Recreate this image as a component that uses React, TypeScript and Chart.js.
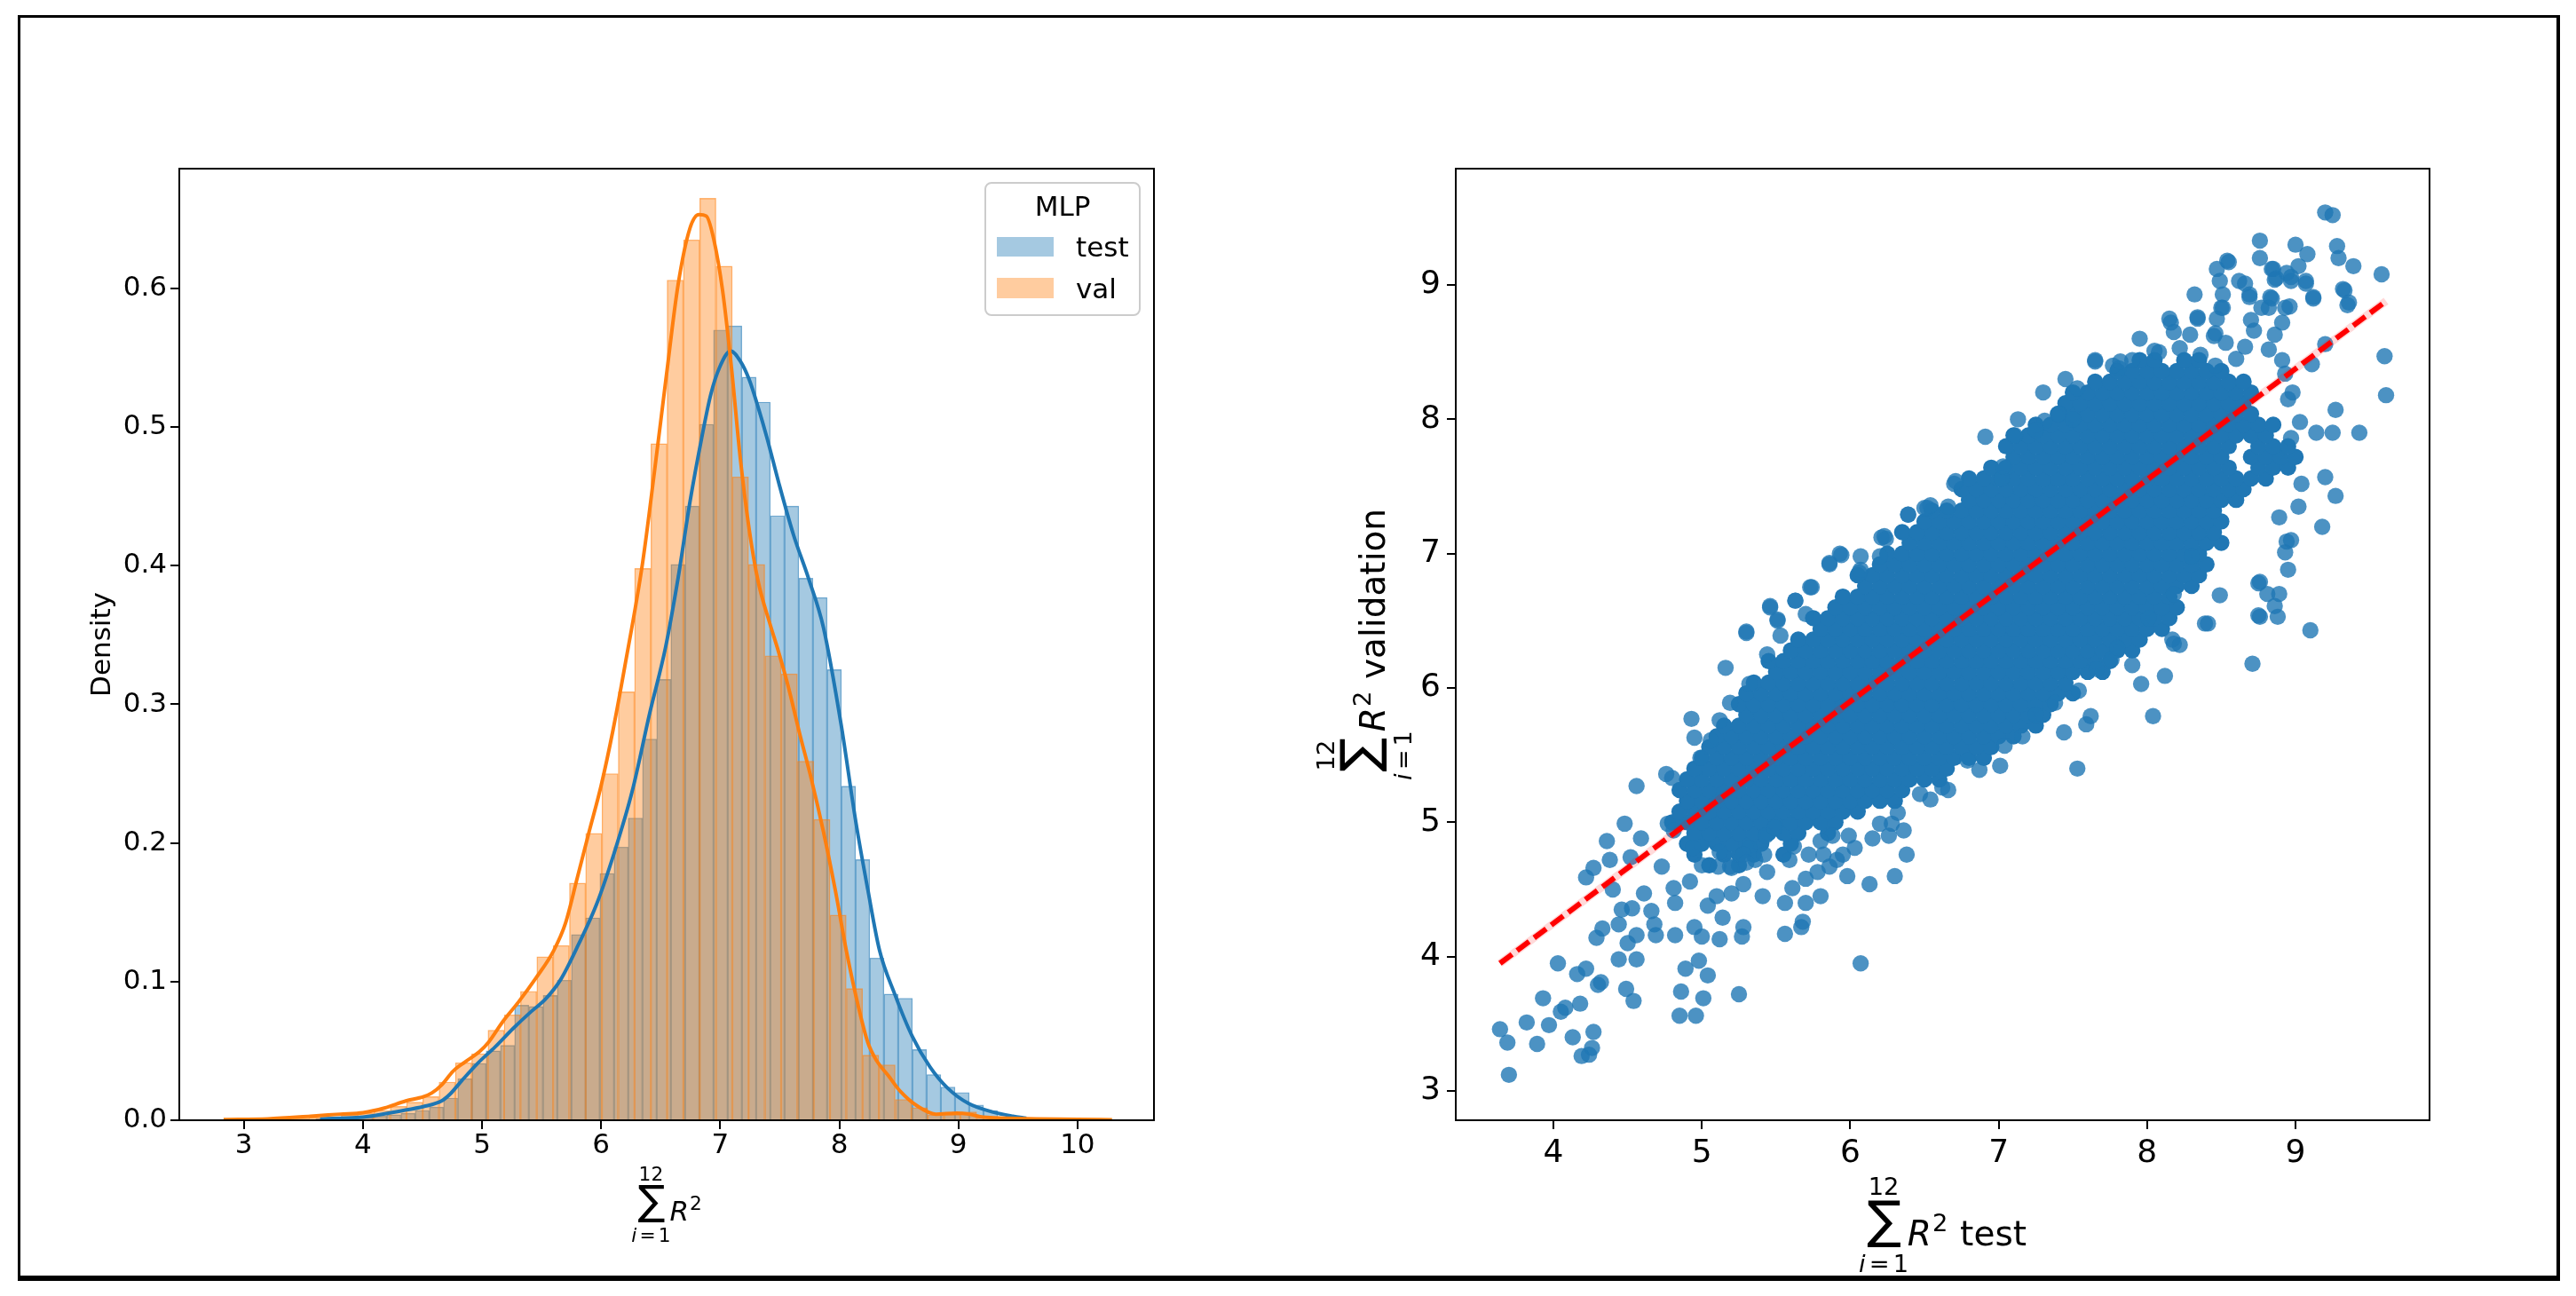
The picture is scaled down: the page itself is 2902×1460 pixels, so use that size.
import React, { useEffect, useRef } from 'react';
import { Chart, registerables } from 'chart.js';

Chart.register(...registerables);

const FONT = '"DejaVu Sans", "Liberation Sans", sans-serif';
const BLUE = '#1f77b4';
const ORANGE = '#ff7f0e';

// ---------- left panel: distribution of summed R^2 ----------
const histXTicks = [3, 4, 5, 6, 7, 8, 9, 10];
const histYTicks = [0, 0.1, 0.2, 0.3, 0.4, 0.5, 0.6];

const testBinCenters = [
  3.663, 3.782, 3.901, 4.021, 4.14, 4.259, 4.379, 4.498, 4.617, 4.736,
  4.856, 4.975, 5.094, 5.214, 5.333, 5.452, 5.572, 5.691, 5.81, 5.929,
  6.049, 6.168, 6.287, 6.407, 6.526, 6.645, 6.765, 6.884, 7.003, 7.122,
  7.242, 7.361, 7.48, 7.6, 7.719, 7.838, 7.958, 8.077, 8.196, 8.315,
  8.435, 8.554, 8.673, 8.793, 8.912, 9.031, 9.151, 9.27, 9.389, 9.508,
];
const testDensity = [
  0.001, 0.001, 0.002, 0.002, 0.003, 0.004, 0.005, 0.007, 0.0095, 0.016,
  0.03, 0.041, 0.05, 0.054, 0.083, 0.082, 0.09, 0.101, 0.134, 0.146,
  0.178, 0.197, 0.218, 0.275, 0.318, 0.401, 0.443, 0.502, 0.57, 0.573,
  0.536, 0.518, 0.436, 0.443, 0.391, 0.377, 0.325, 0.241, 0.188, 0.117,
  0.091, 0.088, 0.051, 0.033, 0.024, 0.02, 0.011, 0.007, 0.002, 0.001,
];
const valBinCenters = [
  3.202, 3.339, 3.476, 3.613, 3.75, 3.886, 4.023, 4.16, 4.297, 4.434,
  4.57, 4.707, 4.844, 4.981, 5.118, 5.254, 5.391, 5.528, 5.665, 5.802,
  5.938, 6.075, 6.212, 6.349, 6.486, 6.622, 6.759, 6.896, 7.033, 7.17,
  7.306, 7.443, 7.58, 7.717, 7.854, 7.99, 8.127, 8.264, 8.401, 8.538,
  8.674, 8.811, 8.948, 9.085, 9.222, 9.358, 9.495, 9.632, 9.769, 9.906,
];
const valDensity = [
  0.001, 0.001, 0.001, 0.002, 0.002, 0.004, 0.005, 0.007, 0.01, 0.013,
  0.017, 0.0275, 0.0414, 0.048, 0.065, 0.076, 0.093, 0.118, 0.126, 0.171,
  0.207, 0.25, 0.309, 0.398, 0.488, 0.606, 0.635, 0.665, 0.616, 0.464,
  0.401, 0.335, 0.322, 0.259, 0.217, 0.148, 0.095, 0.047, 0.04, 0.015,
  0.009, 0.004, 0.004, 0.006, 0.002, 0.001, 0.001, 0.0005, 0.0005, 0.0005,
];

const testKde: [number, number][] = [
  [3.64, 0.001], [3.8, 0.0015], [4.0, 0.0022], [4.31, 0.0066], [4.51, 0.0099],
  [4.66, 0.0139], [4.73, 0.0187], [4.83, 0.0286], [4.96, 0.0408], [5.11, 0.0529],
  [5.26, 0.0661], [5.41, 0.0782], [5.53, 0.0871], [5.66, 0.1014], [5.81, 0.1268],
  [5.96, 0.1554], [6.11, 0.1929], [6.26, 0.237], [6.41, 0.2944], [6.54, 0.3407],
  [6.646, 0.391], [6.746, 0.446], [6.845, 0.4924], [6.92, 0.5233], [6.995, 0.5431],
  [7.087, 0.5548], [7.169, 0.5475], [7.243, 0.5343], [7.318, 0.5144], [7.392, 0.4924],
  [7.493, 0.4593], [7.617, 0.4218], [7.741, 0.391], [7.866, 0.3557], [8.015, 0.2855],
  [8.139, 0.215], [8.239, 0.1665], [8.338, 0.1224], [8.463, 0.0915], [8.612, 0.0606],
  [8.761, 0.0385], [8.91, 0.0231], [9.084, 0.0121], [9.284, 0.006], [9.457, 0.0029],
  [9.57, 0.0015],
];
const valKde: [number, number][] = [
  [2.83, 0.0005], [3.2, 0.001], [3.56, 0.0029], [3.81, 0.0044], [4.0, 0.0055],
  [4.18, 0.0088], [4.36, 0.0139], [4.51, 0.017], [4.58, 0.0198], [4.66, 0.0254],
  [4.756, 0.0353], [4.855, 0.0419], [4.98, 0.0496], [5.054, 0.0562], [5.179, 0.0717],
  [5.303, 0.0849], [5.452, 0.1025], [5.602, 0.1224], [5.701, 0.1422], [5.801, 0.1753],
  [5.9, 0.2084], [6.0, 0.2414], [6.099, 0.2811], [6.199, 0.3274], [6.348, 0.402],
  [6.448, 0.468], [6.547, 0.5365], [6.646, 0.6026], [6.746, 0.6435], [6.821, 0.6533],
  [6.883, 0.6522], [6.945, 0.6357], [7.02, 0.5983], [7.094, 0.5431], [7.169, 0.477],
  [7.243, 0.4263], [7.318, 0.3888], [7.418, 0.3579], [7.48, 0.3407], [7.567, 0.3142],
  [7.667, 0.2789], [7.766, 0.2458], [7.866, 0.2084], [7.965, 0.1665], [8.064, 0.1201],
  [8.164, 0.0805], [8.239, 0.0562], [8.313, 0.043], [8.413, 0.032], [8.512, 0.0209],
  [8.661, 0.0099], [8.81, 0.0044], [8.985, 0.0051], [9.084, 0.0044], [9.209, 0.0022],
  [9.408, 0.0015], [9.657, 0.001], [10.0, 0.0007], [10.29, 0.0003],
];

// ---------- right panel: test vs validation ----------
const scatterXTicks = [4, 5, 6, 7, 8, 9];
const scatterYTicks = [3, 4, 5, 6, 7, 8, 9];
const fitLine: [number, number][] = [[3.64, 3.95], [9.61, 8.88]];

// points that can be told apart in the picture
const scatterSparse: [number, number][] = [
  [3.64, 3.46], [3.69, 3.36], [3.7, 3.12], [3.82, 3.51], [3.89, 3.35], [3.97, 3.49], [3.93, 3.69],
  [4.03, 3.95], [4.05, 3.59], [4.08, 3.62], [4.13, 3.4], [4.16, 3.87], [4.18, 3.65], [4.19, 3.26],
  [4.22, 3.91], [4.24, 3.27], [4.26, 3.32], [4.27, 3.44], [4.3, 3.79], [4.32, 3.81], [4.29, 4.14],
  [4.33, 4.21], [4.22, 4.59], [4.27, 4.66], [4.36, 4.86], [4.38, 4.72], [4.4, 4.5], [4.44, 3.98],
  [4.46, 4.35], [4.44, 4.24], [4.49, 3.76], [4.5, 4.1], [4.54, 3.67], [4.56, 3.98], [4.56, 4.16],
  [4.53, 4.36], [4.48, 4.99], [4.52, 4.74], [4.56, 5.27], [4.59, 4.88], [4.61, 4.47], [4.66, 4.34],
  [4.68, 4.24], [4.69, 4.16], [4.73, 4.67], [4.76, 5.36], [4.77, 4.99], [4.8, 5.33], [4.81, 4.51],
  [4.82, 4.4], [4.82, 4.16], [4.85, 3.56], [4.86, 3.74], [4.89, 3.91], [4.92, 4.56], [4.93, 5.77],
  [4.95, 5.63], [4.95, 4.22], [4.96, 3.56], [4.98, 3.97], [4.99, 5.48], [5.01, 3.69], [5.04, 3.86],
  [5.06, 5.61], [5.0, 4.15], [5.04, 4.38], [5.1, 4.45], [5.12, 4.13], [5.12, 5.76], [5.14, 4.29],
  [5.16, 6.15], [5.19, 4.67], [5.2, 4.47], [5.25, 3.72], [5.27, 4.15], [5.28, 4.22], [5.28, 4.54],
  [5.3, 6.41], [5.32, 4.81], [5.36, 4.72], [5.41, 4.45], [5.43, 4.9], [5.46, 6.6], [5.49, 4.96],
  [5.51, 6.5], [5.56, 4.17], [5.56, 4.4], [5.59, 4.72], [5.61, 4.51], [5.63, 6.65], [5.67, 4.22],
  [5.68, 4.26], [5.7, 4.4], [5.72, 4.76], [5.74, 6.75], [5.78, 4.63], [5.8, 4.45], [5.82, 4.76],
  [5.86, 6.93], [5.88, 4.9], [5.91, 4.72], [5.94, 6.99], [5.95, 4.76], [5.98, 4.6], [5.99, 4.9],
  [6.07, 3.95], [6.07, 6.88], [6.13, 4.54], [6.15, 4.88], [6.2, 4.99], [6.23, 7.13], [6.26, 4.9],
  [6.3, 4.6], [6.32, 5.07], [6.36, 4.94], [6.38, 4.76], [6.39, 7.29], [6.47, 5.21], [6.52, 7.34],
  [6.62, 5.26], [6.66, 5.24], [6.79, 5.46], [7.01, 5.42], [6.91, 7.87], [7.02, 7.56], [7.13, 8.0],
  [7.16, 5.64], [7.25, 5.8], [7.31, 7.99], [7.41, 8.04], [7.44, 5.67], [7.53, 5.4], [7.59, 5.73],
  [7.62, 5.79], [7.65, 8.43], [7.66, 6.14], [7.76, 6.21], [7.81, 8.38], [7.9, 6.17], [7.96, 6.03],
  [8.04, 5.79], [8.12, 6.09], [8.17, 6.36], [8.22, 6.32], [8.41, 6.48], [8.49, 6.69], [8.15, 8.75],
  [8.32, 8.93], [8.34, 8.76], [8.47, 9.12], [8.55, 9.17], [8.49, 9.03], [8.51, 8.83], [8.62, 9.03],
  [8.66, 9.01], [8.69, 8.93], [8.7, 8.74], [8.76, 9.33], [8.76, 9.2], [8.82, 8.83], [8.83, 8.91],
  [8.85, 9.12], [8.87, 9.05], [8.91, 8.72], [8.93, 8.83], [8.97, 9.06], [9.0, 9.3], [9.02, 9.14],
  [9.08, 9.23], [9.07, 9.03], [9.12, 8.91], [9.2, 9.54], [9.25, 9.52], [9.28, 9.29], [9.29, 9.2],
  [9.32, 8.97], [9.36, 8.87], [9.39, 9.14], [9.58, 9.08], [9.6, 8.47], [9.61, 8.18], [9.11, 8.41],
  [9.2, 8.56], [9.27, 8.07], [9.25, 7.9], [9.43, 7.9], [9.14, 7.9], [9.2, 7.57], [9.27, 7.43],
  [9.04, 7.52], [9.02, 7.35], [9.18, 7.2], [8.97, 7.1], [8.93, 7.01], [8.95, 6.88], [8.89, 6.7],
  [8.86, 6.61], [8.88, 6.53], [8.76, 6.53], [8.81, 6.7], [8.76, 6.79], [9.1, 6.43], [8.71, 6.18],
  [8.18, 6.33], [8.89, 7.27],
  [6.7, 7.52], [6.54, 7.36], [6.24, 7.11], [6.07, 6.98], [5.7, 6.55], [5.53, 6.39], [5.44, 6.25],
  [5.32, 6.03], [5.19, 5.89], [8.3, 6.98], [8.18, 6.7], [8.01, 6.52], [7.8, 6.3], [7.54, 5.98],
  [7.38, 5.89], [7.04, 5.57], [6.87, 5.39], [6.54, 5.17], [6.28, 4.99], [6.03, 4.81], [5.86, 4.67],
  [5.7, 4.58], [5.44, 4.63], [5.28, 4.76], [5.11, 4.67], [4.94, 4.81], [4.81, 4.94],
  [8.18, 8.65], [8.05, 8.51], [7.95, 8.6], [8.45, 8.62], [8.6, 8.45], [7.45, 8.3], [7.3, 8.2],
  [8.53, 8.57], [8.72, 8.66], [8.86, 8.63], [8.66, 8.54], [8.82, 8.52], [8.91, 8.44], [8.93, 8.34],
  [8.98, 8.2], [8.95, 8.15], [9.03, 7.98], [8.97, 7.86], [8.94, 7.09], [8.75, 6.78], [8.75, 6.54],
  [8.39, 6.48], [8.29, 8.63], [8.46, 8.64], [8.34, 8.75], [8.16, 8.72], [8.47, 8.75], [8.5, 8.83],
  [8.51, 8.93], [8.69, 8.91], [8.84, 8.9], [8.77, 8.83], [8.96, 8.84], [8.86, 9.04], [8.97, 9.03],
  [9.07, 9.01], [8.54, 9.18], [8.84, 9.12], [8.94, 9.09], [9.12, 8.9], [9.33, 8.96], [9.35, 8.85],
  [7.53, 8.23], [7.5, 8.0], [7.77, 8.4], [7.82, 8.43], [7.65, 8.44], [7.4, 8.04], [7.25, 7.92],
  [7.11, 7.88], [6.71, 7.54], [7.03, 7.65], [6.66, 7.35], [6.5, 7.34], [6.39, 7.29], [6.21, 7.12],
  [6.2, 6.98], [5.93, 7.0], [5.86, 6.92], [6.06, 6.86], [5.73, 6.75], [5.63, 6.65], [5.46, 6.61],
  [5.3, 6.42], [5.51, 6.51],
  [5.0, 4.68], [5.2, 4.66], [5.3, 4.7], [5.12, 4.78], [5.42, 4.76], [5.62, 4.82], [5.8, 4.86],
  [8.08, 8.5], [8.22, 8.53], [8.36, 8.48], [7.9, 8.44], [8.46, 8.4],
];

// the solid core of the cloud, read row by row: [validation, test values in that row]
const scatterDenseRows: [number, number[]][] = [
  [4.68, [5.05, 5.25]],
  [4.76, [4.95, 5.15, 5.25, 5.35, 5.55]],
  [4.84, [4.9, 5, 5.1, 5.2, 5.3, 5.4, 5.6]],
  [4.92, [4.95, 5.05, 5.15, 5.25, 5.35, 5.45, 5.55, 5.65, 5.85]],
  [5.0, [4.8, 4.9, 5, 5.1, 5.2, 5.3, 5.4, 5.5, 5.6, 5.7, 5.8, 5.9]],
  [5.08, [4.85, 4.95, 5.05, 5.15, 5.25, 5.35, 5.45, 5.55, 5.65, 5.75, 5.85, 5.95, 6.05]],
  [5.16, [4.9, 5, 5.1, 5.2, 5.3, 5.4, 5.5, 5.6, 5.7, 5.8, 5.9, 6, 6.1, 6.2, 6.3]],
  [5.24, [4.85, 4.95, 5.05, 5.15, 5.25, 5.35, 5.45, 5.55, 5.65, 5.75, 5.85, 5.95, 6.05, 6.15, 6.25, 6.35]],
  [5.32, [4.9, 5, 5.1, 5.2, 5.3, 5.4, 5.5, 5.6, 5.7, 5.8, 5.9, 6, 6.1, 6.2, 6.3, 6.4, 6.5, 6.6]],
  [5.4, [4.95, 5.05, 5.15, 5.25, 5.35, 5.45, 5.55, 5.65, 5.75, 5.85, 5.95, 6.05, 6.15, 6.25, 6.35, 6.45, 6.55, 6.65]],
  [5.48, [5, 5.1, 5.2, 5.3, 5.4, 5.5, 5.6, 5.7, 5.8, 5.9, 6, 6.1, 6.2, 6.3, 6.4, 6.5, 6.6, 6.7, 6.8, 6.9]],
  [5.56, [5.05, 5.15, 5.25, 5.35, 5.45, 5.55, 5.65, 5.75, 5.85, 5.95, 6.05, 6.15, 6.25, 6.35, 6.45, 6.55, 6.65, 6.75, 6.85, 6.95]],
  [5.64, [5.1, 5.2, 5.3, 5.4, 5.5, 5.6, 5.7, 5.8, 5.9, 6, 6.1, 6.2, 6.3, 6.4, 6.5, 6.6, 6.7, 6.8, 6.9, 7, 7.1]],
  [5.72, [5.15, 5.25, 5.35, 5.45, 5.55, 5.65, 5.75, 5.85, 5.95, 6.05, 6.15, 6.25, 6.35, 6.45, 6.55, 6.65, 6.75, 6.85, 6.95, 7.05, 7.15, 7.25]],
  [5.8, [5.3, 5.4, 5.5, 5.6, 5.7, 5.8, 5.9, 6, 6.1, 6.2, 6.3, 6.4, 6.5, 6.6, 6.7, 6.8, 6.9, 7, 7.1, 7.2, 7.3]],
  [5.88, [5.25, 5.35, 5.45, 5.55, 5.65, 5.75, 5.85, 5.95, 6.05, 6.15, 6.25, 6.35, 6.45, 6.55, 6.65, 6.75, 6.85, 6.95, 7.05, 7.15, 7.25, 7.35]],
  [5.96, [5.3, 5.4, 5.5, 5.6, 5.7, 5.8, 5.9, 6, 6.1, 6.2, 6.3, 6.4, 6.5, 6.6, 6.7, 6.8, 6.9, 7, 7.1, 7.2, 7.3, 7.4, 7.5]],
  [6.04, [5.35, 5.45, 5.55, 5.65, 5.75, 5.85, 5.95, 6.05, 6.15, 6.25, 6.35, 6.45, 6.55, 6.65, 6.75, 6.85, 6.95, 7.05, 7.15, 7.25, 7.35, 7.45]],
  [6.12, [5.5, 5.6, 5.7, 5.8, 5.9, 6, 6.1, 6.2, 6.3, 6.4, 6.5, 6.6, 6.7, 6.8, 6.9, 7, 7.1, 7.2, 7.3, 7.4, 7.5, 7.6, 7.7]],
  [6.2, [5.45, 5.55, 5.65, 5.75, 5.85, 5.95, 6.05, 6.15, 6.25, 6.35, 6.45, 6.55, 6.65, 6.75, 6.85, 6.95, 7.05, 7.15, 7.25, 7.35, 7.45, 7.55, 7.65, 7.75]],
  [6.28, [5.6, 5.7, 5.8, 5.9, 6, 6.1, 6.2, 6.3, 6.4, 6.5, 6.6, 6.7, 6.8, 6.9, 7, 7.1, 7.2, 7.3, 7.4, 7.5, 7.6, 7.7, 7.8, 7.9]],
  [6.36, [5.65, 5.75, 5.85, 5.95, 6.05, 6.15, 6.25, 6.35, 6.45, 6.55, 6.65, 6.75, 6.85, 6.95, 7.05, 7.15, 7.25, 7.35, 7.45, 7.55, 7.65, 7.75, 7.85, 7.95]],
  [6.44, [5.8, 5.9, 6, 6.1, 6.2, 6.3, 6.4, 6.5, 6.6, 6.7, 6.8, 6.9, 7, 7.1, 7.2, 7.3, 7.4, 7.5, 7.6, 7.7, 7.8, 7.9, 8, 8.1]],
  [6.52, [5.75, 5.85, 5.95, 6.05, 6.15, 6.25, 6.35, 6.45, 6.55, 6.65, 6.75, 6.85, 6.95, 7.05, 7.15, 7.25, 7.35, 7.45, 7.55, 7.65, 7.75, 7.85, 7.95, 8.05, 8.15]],
  [6.6, [5.9, 6, 6.1, 6.2, 6.3, 6.4, 6.5, 6.6, 6.7, 6.8, 6.9, 7, 7.1, 7.2, 7.3, 7.4, 7.5, 7.6, 7.7, 7.8, 7.9, 8, 8.1, 8.2]],
  [6.68, [5.95, 6.05, 6.15, 6.25, 6.35, 6.45, 6.55, 6.65, 6.75, 6.85, 6.95, 7.05, 7.15, 7.25, 7.35, 7.45, 7.55, 7.65, 7.75, 7.85, 7.95, 8.05, 8.15]],
  [6.76, [6.1, 6.2, 6.3, 6.4, 6.5, 6.6, 6.7, 6.8, 6.9, 7, 7.1, 7.2, 7.3, 7.4, 7.5, 7.6, 7.7, 7.8, 7.9, 8, 8.1, 8.2, 8.3]],
  [6.84, [6.05, 6.15, 6.25, 6.35, 6.45, 6.55, 6.65, 6.75, 6.85, 6.95, 7.05, 7.15, 7.25, 7.35, 7.45, 7.55, 7.65, 7.75, 7.85, 7.95, 8.05, 8.15, 8.25, 8.35]],
  [6.92, [6.2, 6.3, 6.4, 6.5, 6.6, 6.7, 6.8, 6.9, 7, 7.1, 7.2, 7.3, 7.4, 7.5, 7.6, 7.7, 7.8, 7.9, 8, 8.1, 8.2, 8.3, 8.4]],
  [7.0, [6.25, 6.35, 6.45, 6.55, 6.65, 6.75, 6.85, 6.95, 7.05, 7.15, 7.25, 7.35, 7.45, 7.55, 7.65, 7.75, 7.85, 7.95, 8.05, 8.15, 8.25, 8.35]],
  [7.08, [6.4, 6.5, 6.6, 6.7, 6.8, 6.9, 7, 7.1, 7.2, 7.3, 7.4, 7.5, 7.6, 7.7, 7.8, 7.9, 8, 8.1, 8.2, 8.3, 8.4, 8.5]],
  [7.16, [6.35, 6.45, 6.55, 6.65, 6.75, 6.85, 6.95, 7.05, 7.15, 7.25, 7.35, 7.45, 7.55, 7.65, 7.75, 7.85, 7.95, 8.05, 8.15, 8.25, 8.35, 8.45]],
  [7.24, [6.5, 6.6, 6.7, 6.8, 6.9, 7, 7.1, 7.2, 7.3, 7.4, 7.5, 7.6, 7.7, 7.8, 7.9, 8, 8.1, 8.2, 8.3, 8.4, 8.5]],
  [7.32, [6.55, 6.65, 6.75, 6.85, 6.95, 7.05, 7.15, 7.25, 7.35, 7.45, 7.55, 7.65, 7.75, 7.85, 7.95, 8.05, 8.15, 8.25, 8.35, 8.45]],
  [7.4, [6.8, 6.9, 7, 7.1, 7.2, 7.3, 7.4, 7.5, 7.6, 7.7, 7.8, 7.9, 8, 8.1, 8.2, 8.3, 8.4, 8.5, 8.6]],
  [7.48, [6.75, 6.85, 6.95, 7.05, 7.15, 7.25, 7.35, 7.45, 7.55, 7.65, 7.75, 7.85, 7.95, 8.05, 8.15, 8.25, 8.35, 8.45, 8.55, 8.65]],
  [7.56, [6.8, 6.9, 7, 7.1, 7.2, 7.3, 7.4, 7.5, 7.6, 7.7, 7.8, 7.9, 8, 8.1, 8.2, 8.3, 8.4, 8.5, 8.6, 8.7, 8.8]],
  [7.64, [6.95, 7.05, 7.15, 7.25, 7.35, 7.45, 7.55, 7.65, 7.75, 7.85, 7.95, 8.05, 8.15, 8.25, 8.35, 8.45, 8.55, 8.75, 8.85, 8.95]],
  [7.72, [7.1, 7.2, 7.3, 7.4, 7.5, 7.6, 7.7, 7.8, 7.9, 8, 8.1, 8.2, 8.3, 8.4, 8.5, 8.7, 8.8, 8.9, 9]],
  [7.8, [7.05, 7.15, 7.25, 7.35, 7.45, 7.55, 7.65, 7.75, 7.85, 7.95, 8.05, 8.15, 8.25, 8.35, 8.45, 8.55, 8.75, 8.85, 8.95]],
  [7.88, [7.1, 7.2, 7.3, 7.4, 7.5, 7.6, 7.7, 7.8, 7.9, 8, 8.1, 8.2, 8.3, 8.4, 8.5, 8.6, 8.7, 8.8]],
  [7.96, [7.25, 7.35, 7.45, 7.55, 7.65, 7.75, 7.85, 7.95, 8.05, 8.15, 8.25, 8.35, 8.45, 8.55, 8.65, 8.75, 8.85]],
  [8.04, [7.4, 7.5, 7.6, 7.7, 7.8, 7.9, 8, 8.1, 8.2, 8.3, 8.4, 8.5, 8.6, 8.7]],
  [8.12, [7.45, 7.55, 7.65, 7.75, 7.85, 7.95, 8.05, 8.15, 8.25, 8.35, 8.45, 8.55, 8.65]],
  [8.2, [7.5, 7.6, 7.7, 7.8, 7.9, 8, 8.1, 8.2, 8.3, 8.4, 8.5, 8.6, 8.7]],
  [8.28, [7.65, 7.75, 7.85, 7.95, 8.05, 8.15, 8.25, 8.35, 8.45, 8.55, 8.65]],
  [8.36, [7.8, 7.9, 8, 8.1, 8.2, 8.3, 8.4, 8.5]],
  [8.44, [7.95, 8.05, 8.25, 8.35]],
];

// ---------- drawing helpers ----------
const spines = {
  id: 'spines',
  afterDatasetsDraw(chart: any) {
    const { ctx, chartArea: a } = chart;
    ctx.save();
    ctx.strokeStyle = '#000';
    ctx.lineWidth = 2;
    ctx.strokeRect(a.left, a.top, a.right - a.left, a.bottom - a.top);
    ctx.restore();
  },
};

// sum_{i=1}^{12} R^2 [suffix], origin = baseline of R, group centred on x = 0
function drawSumLabel(ctx: CanvasRenderingContext2D, s: number, suffix: string) {
  const sub = 0.7 * s;
  ctx.fillStyle = '#000';
  ctx.textAlign = 'left';
  ctx.textBaseline = 'alphabetic';
  ctx.font = `100px ${FONT}`;
  const probe = ctx.measureText('\u2211');
  const sumPx = (100 * 1.36 * s) / (probe.actualBoundingBoxAscent + probe.actualBoundingBoxDescent);
  ctx.font = `${sumPx}px ${FONT}`;
  const sm = ctx.measureText('\u2211');
  const sumW = sm.actualBoundingBoxLeft + sm.actualBoundingBoxRight;
  ctx.font = `italic ${sub}px ${FONT}`;
  const wi = ctx.measureText('i').width;
  ctx.font = `${sub}px ${FONT}`;
  const wEq = ctx.measureText('=').width;
  const w1 = ctx.measureText('1').width;
  const w2 = ctx.measureText('2').width;
  const gap = 0.15 * sub;
  const subW = wi + gap + wEq + gap + w1;
  const colW = Math.max(sumW, subW);
  ctx.font = `italic ${s}px ${FONT}`;
  const wR = ctx.measureText('R').width;
  ctx.font = `${s}px ${FONT}`;
  const wSuffix = suffix ? 0.35 * s + ctx.measureText(suffix).width : 0;
  const total = colW / 2 + sumW / 2 + 0.2 * s + wR + 0.03 * s + w2 + wSuffix;
  const col = -total / 2 + colW / 2;

  ctx.font = `${sumPx}px ${FONT}`;
  ctx.fillText('\u2211', col - sumW / 2 + sm.actualBoundingBoxLeft, -1.3 * s + sm.actualBoundingBoxAscent);
  ctx.font = `${sub}px ${FONT}`;
  ctx.textAlign = 'center';
  ctx.fillText('12', col, -1.45 * s);
  ctx.textAlign = 'left';
  let x = col - subW / 2;
  ctx.font = `italic ${sub}px ${FONT}`;
  ctx.fillText('i', x, 0.78 * s);
  x += wi + gap;
  ctx.font = `${sub}px ${FONT}`;
  ctx.fillText('=', x, 0.78 * s);
  x += wEq + gap;
  ctx.fillText('1', x, 0.78 * s);
  x = col + sumW / 2 + 0.2 * s;
  ctx.font = `italic ${s}px ${FONT}`;
  ctx.fillText('R', x, 0);
  x += wR + 0.03 * s;
  ctx.font = `${sub}px ${FONT}`;
  ctx.fillText('2', x, -0.4 * s);
  if (suffix) {
    x += w2 + 0.35 * s;
    ctx.font = `${s}px ${FONT}`;
    ctx.fillText(suffix, x, 0);
  }
}

const histDecor = {
  id: 'histDecor',
  afterDraw(chart: any) {
    const { ctx, chartArea: a } = chart;
    // x label
    ctx.save();
    ctx.translate((a.left + a.right) / 2, a.bottom + 113);
    drawSumLabel(ctx, 31, '');
    ctx.restore();
    // y label
    ctx.save();
    ctx.translate(a.left - 78, (a.top + a.bottom) / 2);
    ctx.rotate(-Math.PI / 2);
    ctx.fillStyle = '#000';
    ctx.font = `31px ${FONT}`;
    ctx.textAlign = 'center';
    ctx.textBaseline = 'alphabetic';
    ctx.fillText('Density', 0, 0);
    ctx.restore();
    // legend
    const x = a.right - 190;
    const y = a.top + 16;
    ctx.save();
    ctx.beginPath();
    ctx.roundRect(x, y, 174, 149, 7);
    ctx.fillStyle = 'rgba(255,255,255,0.8)';
    ctx.fill();
    ctx.strokeStyle = '#cccccc';
    ctx.lineWidth = 2;
    ctx.stroke();
    ctx.fillStyle = '#000';
    ctx.font = `31px ${FONT}`;
    ctx.textAlign = 'center';
    ctx.textBaseline = 'alphabetic';
    ctx.fillText('MLP', x + 87, y + 37);
    ctx.fillStyle = 'rgba(31,119,180,0.4)';
    ctx.fillRect(x + 13, y + 61, 64, 22);
    ctx.fillStyle = 'rgba(255,127,14,0.4)';
    ctx.fillRect(x + 13, y + 107, 64, 23);
    ctx.fillStyle = '#000';
    ctx.textAlign = 'left';
    ctx.fillText('test', x + 102, y + 83);
    ctx.fillText('val', x + 102, y + 130);
    ctx.restore();
  },
};

const scatterDecor = {
  id: 'scatterDecor',
  afterDraw(chart: any) {
    const { ctx, chartArea: a } = chart;
    ctx.save();
    ctx.translate((a.left + a.right) / 2, a.bottom + 141);
    drawSumLabel(ctx, 39, 'test');
    ctx.restore();
    ctx.save();
    ctx.translate(a.left - 80, (a.top + a.bottom) / 2);
    ctx.rotate(-Math.PI / 2);
    drawSumLabel(ctx, 39, 'validation');
    ctx.restore();
  },
};

function axisTicks(values: number[]) {
  return (scale: any) => {
    scale.ticks = values.map((value) => ({ value }));
  };
}

function tickGrid() {
  return {
    display: true,
    drawOnChartArea: false,
    drawTicks: true,
    tickLength: 10,
    color: '#000',
    lineWidth: 2,
    offset: false,
  };
}

function HistPanel() {
  const ref = useRef<HTMLCanvasElement>(null);
  useEffect(() => {
    if (!ref.current) return;
    const binStyle = {
      grouped: false,
      barPercentage: 1,
      categoryPercentage: 1,
      borderWidth: { left: 0.7, right: 0.7, top: 0.7, bottom: 0 },
    };
    const chart = new Chart(ref.current, {
      type: 'bar',
      data: {
        datasets: [
          {
            type: 'line',
            label: 'val kde',
            data: valKde.map(([x, y]) => ({ x, y })),
            borderColor: ORANGE,
            borderWidth: 4,
            pointRadius: 0,
            cubicInterpolationMode: 'monotone',
            xAxisID: 'x',
            order: 1,
          },
          {
            type: 'line',
            label: 'test kde',
            data: testKde.map(([x, y]) => ({ x, y })),
            borderColor: BLUE,
            borderWidth: 4,
            pointRadius: 0,
            cubicInterpolationMode: 'monotone',
            xAxisID: 'x',
            order: 2,
          },
          {
            type: 'bar',
            label: 'val',
            data: valBinCenters.map((x, i) => ({ x, y: valDensity[i] })),
            xAxisID: 'x2',
            backgroundColor: 'rgba(255,127,14,0.4)',
            borderColor: 'rgba(255,127,14,0.55)',
            ...binStyle,
            order: 3,
          },
          {
            type: 'bar',
            label: 'test',
            data: testBinCenters.map((x, i) => ({ x, y: testDensity[i] })),
            xAxisID: 'x',
            backgroundColor: 'rgba(31,119,180,0.4)',
            borderColor: 'rgba(31,119,180,0.55)',
            ...binStyle,
            order: 4,
          },
        ],
      } as any,
      options: {
        responsive: false,
        maintainAspectRatio: false,
        animation: false,
        devicePixelRatio: 1,
        layout: { padding: { left: 0, top: 190, right: 151, bottom: 0 } },
        plugins: { legend: { display: false }, tooltip: { enabled: false } },
        scales: {
          x: {
            type: 'linear',
            position: 'bottom',
            min: 2.458,
            max: 10.642,
            offset: false,
            afterBuildTicks: axisTicks(histXTicks),
            afterFit: (s: any) => {
              s.height = 198;
            },
            grid: tickGrid(),
            border: { display: false },
            ticks: {
              color: '#000',
              font: { family: FONT, size: 31 },
              padding: 0,
              maxRotation: 0,
              autoSkip: false,
              callback: (v: any) => String(v),
            },
          },
          x2: { type: 'linear', display: false, min: 2.458, max: 10.642, offset: false, grid: { offset: false } },
          y: {
            type: 'linear',
            min: 0,
            max: 0.6864,
            afterBuildTicks: axisTicks(histYTicks),
            afterFit: (s: any) => {
              s.width = 202;
            },
            grid: tickGrid(),
            border: { display: false },
            ticks: {
              color: '#000',
              font: { family: FONT, size: 31 },
              padding: 4,
              autoSkip: false,
              callback: (v: any) => Number(v).toFixed(1),
            },
          },
        },
      } as any,
      plugins: [spines, histDecor],
    });
    return () => chart.destroy();
  }, []);
  return (
    <canvas
      ref={ref}
      width={1451}
      height={1460}
      style={{ position: 'absolute', left: 0, top: 0, width: 1451, height: 1460 }}
    />
  );
}

function ScatterPanel() {
  const ref = useRef<HTMLCanvasElement>(null);
  useEffect(() => {
    if (!ref.current) return;
    const line = fitLine.map(([x, y]) => ({ x, y }));
    const chart = new Chart(ref.current, {
      type: 'scatter',
      data: {
        datasets: [
          {
            type: 'line',
            label: 'fit',
            data: line,
            borderColor: '#ff0000',
            borderWidth: 6,
            borderDash: [17, 7],
            pointRadius: 0,
            fill: false,
            order: 1,
          },
          {
            type: 'line',
            label: 'fit band',
            data: line,
            borderColor: 'rgba(255,0,0,0.15)',
            borderWidth: 9,
            pointRadius: 0,
            fill: false,
            order: 2,
          },
          {
            label: 'test vs validation',
            data: scatterSparse.map(([x, y]) => ({ x, y })),
            backgroundColor: 'rgba(31,119,180,0.8)',
            borderWidth: 0,
            pointRadius: 9.2,
            order: 3,
          },
          {
            // heavily overplotted core: many points stacked, so the colour is saturated
            label: 'test vs validation (core)',
            data: scatterDenseRows.flatMap(([y, xs]) => xs.map((x) => ({ x, y }))),
            backgroundColor: '#2077b4',
            borderWidth: 0,
            pointRadius: 9.2,
            order: 4,
          },
        ],
      } as any,
      options: {
        responsive: false,
        maintainAspectRatio: false,
        animation: false,
        devicePixelRatio: 1,
        layout: { padding: { left: 0, top: 190, right: 165, bottom: 0 } },
        plugins: { legend: { display: false }, tooltip: { enabled: false } },
        scales: {
          x: {
            type: 'linear',
            min: 3.342,
            max: 9.903,
            afterBuildTicks: axisTicks(scatterXTicks),
            afterFit: (s: any) => {
              s.height = 198;
            },
            grid: tickGrid(),
            border: { display: false },
            ticks: {
              color: '#000',
              font: { family: FONT, size: 36 },
              padding: 6,
              maxRotation: 0,
              autoSkip: false,
              callback: (v: any) => String(v),
            },
          },
          y: {
            type: 'linear',
            min: 2.782,
            max: 9.866,
            afterBuildTicks: axisTicks(scatterYTicks),
            afterFit: (s: any) => {
              s.width = 189;
            },
            grid: tickGrid(),
            border: { display: false },
            ticks: {
              color: '#000',
              font: { family: FONT, size: 36 },
              padding: 7,
              autoSkip: false,
              callback: (v: any) => String(v),
            },
          },
        },
      } as any,
      plugins: [spines, scatterDecor],
    });
    return () => chart.destroy();
  }, []);
  return (
    <canvas
      ref={ref}
      width={1451}
      height={1460}
      style={{ position: 'absolute', left: 1451, top: 0, width: 1451, height: 1460 }}
    />
  );
}

export default function App() {
  useEffect(() => {
    document.body.style.margin = '0';
    document.body.style.overflow = 'hidden';
  }, []);
  return (
    <div
      style={{
        position: 'absolute',
        left: 0,
        top: 0,
        width: 2902,
        height: 1460,
        background: '#fff',
        overflow: 'hidden',
      }}
    >
      <div
        style={{
          position: 'absolute',
          left: 20,
          top: 17,
          width: 2864,
          height: 1426,
          boxSizing: 'border-box',
          borderStyle: 'solid',
          borderColor: '#000',
          borderWidth: '3px 4px 6px 3px',
        }}
      />
      <HistPanel />
      <ScatterPanel />
    </div>
  );
}
